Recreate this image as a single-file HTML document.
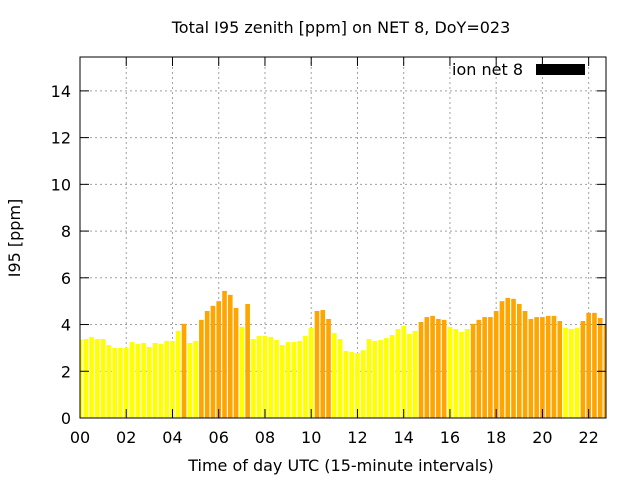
<!DOCTYPE html>
<html><head><meta charset="utf-8"><style>
html,body{margin:0;padding:0;background:#fff;}
svg text{font-family:"DejaVu Sans","Liberation Sans",sans-serif;font-size:16px;fill:#000;}
</style></head><body>
<svg id="chart" width="640" height="480" xmlns="http://www.w3.org/2000/svg">
<text x="341" y="33" text-anchor="middle">Total I95 zenith [ppm] on NET 8, DoY=023</text>
<text x="341" y="471" text-anchor="middle">Time of day UTC (15-minute intervals)</text>
<text transform="translate(20,238) rotate(-90)" text-anchor="middle">I95 [ppm]</text>
<g id="grid"></g>
<g id="bars"></g>
<g id="axes"></g>
<g>
<text x="523" y="75" text-anchor="end">ion net 8</text>
<rect x="536" y="64" width="49" height="11" fill="#000"/>
</g>
</svg>
<script>
const values = [3.35,3.38,3.47,3.38,3.38,3.12,3.0,3.0,3.0,3.25,3.17,3.21,3.04,3.21,3.17,3.3,3.3,3.73,4.03,3.21,3.3,4.2,4.58,4.8,5.0,5.44,5.27,4.71,3.9,4.88,3.38,3.51,3.51,3.47,3.34,3.12,3.25,3.25,3.3,3.51,3.86,4.58,4.62,4.24,3.64,3.38,2.87,2.83,2.78,2.9,3.38,3.3,3.34,3.42,3.55,3.81,3.94,3.6,3.73,4.11,4.32,4.37,4.24,4.2,3.9,3.81,3.68,3.81,4.03,4.2,4.32,4.32,4.58,5.0,5.14,5.1,4.88,4.58,4.24,4.32,4.32,4.37,4.37,4.15,3.86,3.81,3.86,4.15,4.5,4.5,4.28,4.03];
const yTicks = [0,2,4,6,8,10,12,14];
const xTicks = [0,2,4,6,8,10,12,14,16,18,20,22];
const xTickLabels = ["00","02","04","06","08","10","12","14","16","18","20","22"];
const threshold = 4;
const L=80,R=606,T=57,B=418,XMAX=22.75,YMAX=15.45;
const xs=h=>L+(h/XMAX)*(R-L);
const ys=v=>B-(v/YMAX)*(B-T);
const NS="http://www.w3.org/2000/svg";
function mk(tag,attrs,parent){const e=document.createElementNS(NS,tag);for(const k in attrs)e.setAttribute(k,attrs[k]);parent.appendChild(e);return e;}
const grid=document.getElementById('grid'),bars=document.getElementById('bars'),axes=document.getElementById('axes');
yTicks.forEach(v=>{
  if(v>0){const g=mk('line',{x1:L,x2:R,y1:ys(v),y2:ys(v),stroke:'#a0a0a0','stroke-dasharray':'2,3'},grid);
  
  }
  const t=mk('line',{x1:L,x2:L+9,y1:ys(v),y2:ys(v),stroke:'#000'},axes);
  
  
  mk('line',{x1:R,x2:R-9,y1:ys(v),y2:ys(v),stroke:'#000'},axes);
  const l=mk('text',{x:L-9,y:ys(v)+6,'text-anchor':'end'},axes);l.textContent=v;
  
  
});
xTicks.forEach((h,i)=>{
  if(h>0){const g=mk('line',{x1:xs(h),x2:xs(h),y1:T,y2:B,stroke:'#a0a0a0','stroke-dasharray':'2,3'},grid);
  
  }
  const t=mk('line',{x1:xs(h),x2:xs(h),y1:B,y2:B-9,stroke:'#000'},axes);
  
  
  mk('line',{x1:xs(h),x2:xs(h),y1:T,y2:T+9,stroke:'#000'},axes);
  const l=mk('text',{x:xs(h),y:B+25,'text-anchor':'middle'},axes);l.textContent=xTickLabels[i];
  
  
});
const bw=0.2;
values.forEach((v,i)=>{
  const h=i*0.25;
  let x0=Math.max(L,xs(h-bw/2)),x1=Math.min(R,xs(h+bw/2));
  const r=mk('rect',{x:x0,y:ys(v),width:Math.max(0,x1-x0),height:B-ys(v),fill:v>=threshold?'#ffa500':'#ffff00'},bars);
  
  
});
const f=mk('rect',{x:L,y:T,width:R-L,height:B-T,fill:'none',stroke:'#000','stroke-width':1},axes);


</script>
</body></html>
